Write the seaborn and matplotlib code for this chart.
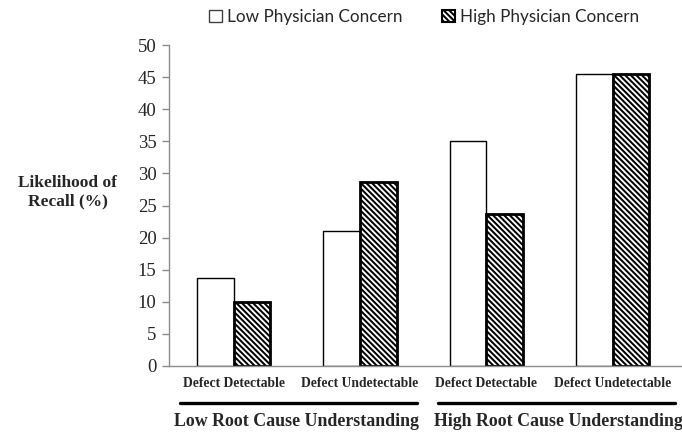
import matplotlib
matplotlib.use("Agg")
import matplotlib.pyplot as plt
import matplotlib.transforms as mtransforms
from matplotlib.patches import Patch
from matplotlib.lines import Line2D
import seaborn as sns
import pandas as pd

# Recall likelihood by defect detectability and physician concern
conditions = ["Defect Detectable", "Defect Undetectable",
              "Defect Detectable ", "Defect Undetectable "]
condition_labels = ["Defect Detectable", "Defect Undetectable",
                    "Defect Detectable", "Defect Undetectable"]
root_cause_groups = ["Low Root Cause Understanding", "High Root Cause Understanding"]
concern_levels = ["Low Physician Concern", "High Physician Concern"]
low_concern = [13.7, 21.1, 35.0, 45.5]
high_concern = [10.0, 28.6, 23.7, 45.5]
y_ticks = [0, 5, 10, 15, 20, 25, 30, 35, 40, 45, 50]

df = pd.DataFrame({
    "condition": conditions * 2,
    "concern": [concern_levels[0]] * 4 + [concern_levels[1]] * 4,
    "recall": low_concern + high_concern,
})

sns.set_theme(style="white")
plt.rcParams["hatch.linewidth"] = 1.45
serif = ["Liberation Serif", "DejaVu Serif"]
dense_hatch = "\\" * 6

fig = plt.figure(figsize=(6.82, 4.34), dpi=100)
ax = fig.add_axes([169 / 682, 68 / 434, 1 - 169 / 682, (366 - 45) / 434])

sns.barplot(data=df, x="condition", y="recall", hue="concern",
            order=conditions, hue_order=concern_levels,
            palette=["white", "white"], width=0.58, saturation=1,
            edgecolor="black", linewidth=1.0, legend=False, ax=ax)

# hatched bars for high concern
for bar in ax.containers[1]:
    bar.set_hatch(dense_hatch)
    bar.set_edgecolor("black")
    bar.set_linewidth(2.0)
for bar in ax.containers[0]:
    bar.set_edgecolor("black")
    bar.set_linewidth(1.0)

ax.set_xlim(-0.511, 3.55)
ax.set_ylim(0, 50)
ax.set_yticks(y_ticks)
ax.set_yticklabels([str(t) for t in y_ticks], family=serif, fontsize=13.5)
ax.set_xticks(range(4))
ax.set_xticklabels(condition_labels, family=serif, fontsize=9.8,
                   fontweight="bold")
ax.tick_params(axis="y", which="major", left=True, length=5, width=1,
               color="#8c8c8c", pad=4)
ax.tick_params(axis="x", bottom=False, length=0, pad=8)
ax.set_xlabel("")
ax.set_ylabel("")
for side in ["top", "right"]:
    ax.spines[side].set_visible(False)
for side in ["left", "bottom"]:
    ax.spines[side].set_color("#8c8c8c")
    ax.spines[side].set_linewidth(1.0)

# y axis title, horizontal at the left
fig.text(68 / 682, 1 - 192 / 434, "Likelihood of\nRecall (%)",
         family=serif, fontsize=12.5, fontweight="bold",
         ha="center", va="center", linespacing=1.15)

# group brackets under the condition labels
trans = mtransforms.blended_transform_factory(ax.transData, fig.transFigure)
line_y = 1 - 403 / 434
text_y = 1 - 421 / 434
for (x0, x1, xc), name in zip([(-0.424, 1.453, 0.5), (1.62, 3.496, 2.573)],
                              root_cause_groups):
    fig.add_artist(Line2D([x0, x1], [line_y, line_y], transform=trans,
                          color="black", linewidth=2.4, clip_on=False))
    fig.text(xc, text_y, name, transform=trans, family=serif,
             fontsize=12.9, fontweight="bold", ha="center", va="center")

# legend across the top
handles = [Patch(facecolor="white", edgecolor="#404040", linewidth=1.0),
           Patch(facecolor="white", edgecolor="black", linewidth=1.5,
                 hatch=dense_hatch)]
fig.legend(handles, concern_levels, ncol=2, frameon=False,
           loc="center", bbox_to_anchor=(424 / 682, 1 - 17 / 434),
           prop={"family": ["Lato", "DejaVu Sans"], "size": 12.3},
           handlelength=0.75, handleheight=0.75, handletextpad=0.3,
           columnspacing=2.3, borderpad=0)

fig.savefig("out.png", dpi=100)
